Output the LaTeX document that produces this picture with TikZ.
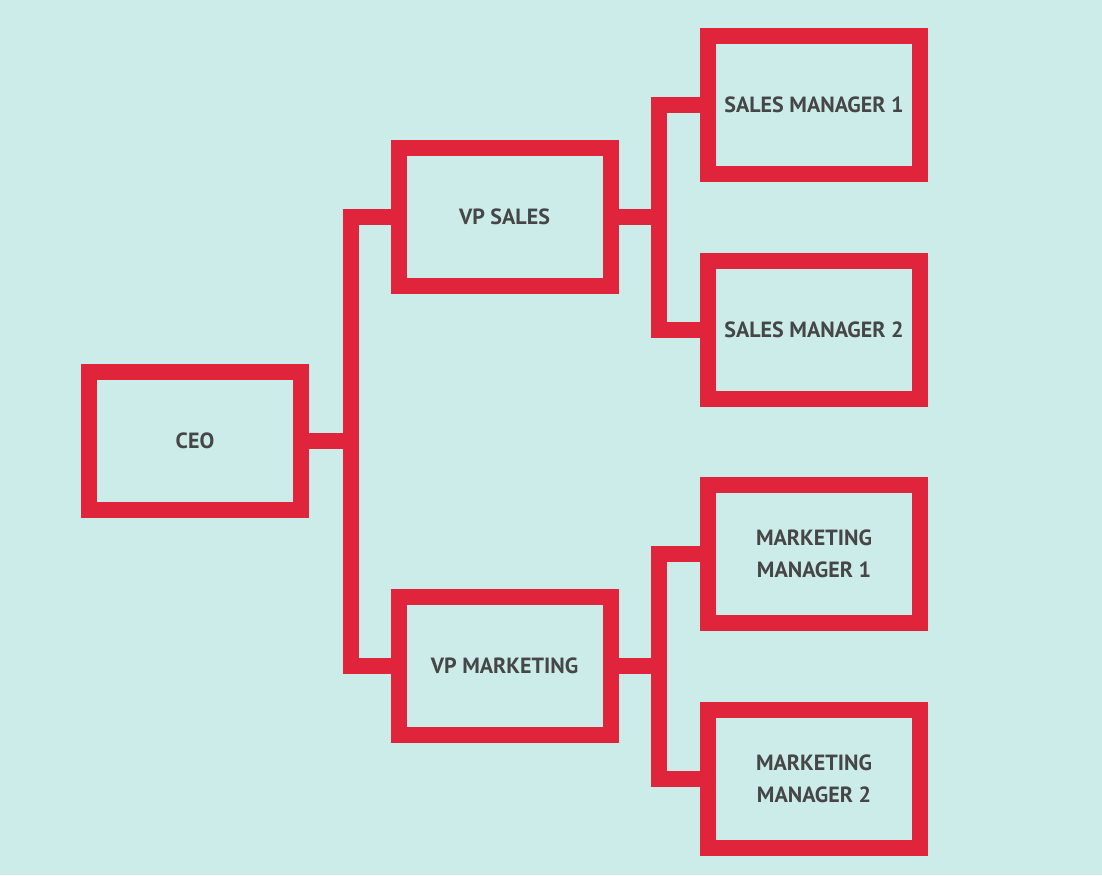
\documentclass[tikz,border=0pt]{standalone}
\usepackage{fontspec}
\setmainfont{PT Sans}
\usetikzlibrary{positioning}

\definecolor{bgteal}{RGB}{203,236,232}
\definecolor{boxred}{RGB}{224,36,60}
\definecolor{txtgray}{RGB}{70,70,72}

\begin{document}
\begin{tikzpicture}[
    x=1pt, y=-1pt,
    box/.style={draw=boxred, line width=16pt, minimum width=212pt, minimum height=138pt, align=center, text=txtgray, font=\fontsize{22}{32}\selectfont\bfseries, inner sep=0pt},
    link/.style={draw=boxred, line width=16pt, line join=miter}
]

% ================= Background =================
\fill[bgteal] (0,0) rectangle (1102,875);

% ================= Nodes =================

% Top of the chart
\node[box] (ceo) at (195, 441) {CEO};

% Vice presidents
\node[box] (vp_sales) at (504.5, 217) {VP SALES};
\node[box] (vp_mkt) at (504.5, 666) {VP MARKETING};

% Managers
\node[box] (sales_m1) at (814, 105) {SALES MANAGER 1};
\node[box] (sales_m2) at (814, 330) {SALES MANAGER 2};
\node[box] (mkt_m1) at (814, 554) {MARKETING \\ MANAGER 1};
\node[box] (mkt_m2) at (814, 779) {MARKETING \\ MANAGER 2};

% ================= Edges =================

% CEO to vice presidents
\draw[link] (vp_sales.west) -- ++(-40, 0) |- (vp_mkt.west);
\draw[link] (ceo.east) -- ++(49, 0);

% VP Sales to sales managers
\draw[link] (sales_m1.west) -- ++(-41, 0) |- (sales_m2.west);
\draw[link] (vp_sales.east) -- ++(48, 0);

% VP Marketing to marketing managers
\draw[link] (mkt_m1.west) -- ++(-41, 0) |- (mkt_m2.west);
\draw[link] (vp_mkt.east) -- ++(48, 0);

\end{tikzpicture}
\end{document}
